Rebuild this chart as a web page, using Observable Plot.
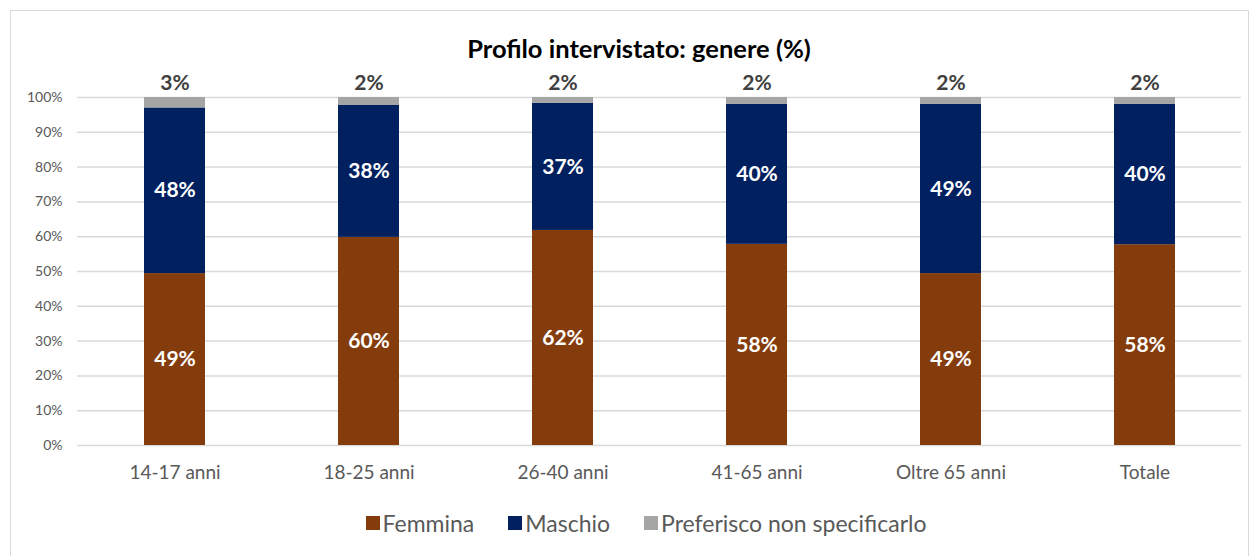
<!DOCTYPE html>
<html>
<head>
<meta charset="utf-8">
<script src="https://cdn.jsdelivr.net/npm/d3@7"></script>
<script src="https://cdn.jsdelivr.net/npm/@observablehq/plot@0.6"></script>
<style>
  html, body { margin: 0; padding: 0; background: #fff; }
  #wrap { position: relative; width: 1257px; height: 556px; overflow: hidden; font-family: Lato, "Open Sans", sans-serif; }
  #frame { position: absolute; left: 10px; top: 10px; width: 1239px; height: 600px; border: 1.5px solid #d9d9d9; box-sizing: border-box; }
  #title { position: absolute; left: 0; width: 1278px; top: 32px; text-align: center; font-weight: bold; font-size: 25.5px; line-height: 32px; color: #000; }
  #legend { position: absolute; left: 0; width: 1292px; top: 508px; display: flex; justify-content: center; gap: 34px; font-size: 23px; line-height: 30px; color: #595959; }
  #legend span.item { display: flex; align-items: center; }
  #legend i { display: inline-block; width: 14px; height: 14px; margin-right: 3px; }
  #chart { position: absolute; left: 0; top: 0; }
  #chart g[aria-label="y-axis tick label"] { font-size: 14px; }
  #chart g[aria-label="x-axis tick label"] { font-size: 19px; }
</style>
</head>
<body>
<div id="wrap">
  <div id="frame"></div>
  <div id="chart"></div>
  <div id="title">Profilo intervistato: genere (%)</div>
  <div id="legend"></div>
</div>
<script>
const categories = ["14-17 anni", "18-25 anni", "26-40 anni", "41-65 anni", "Oltre 65 anni", "Totale"];
const genders = ["Femmina", "Maschio", "Preferisco non specificarlo"];
const femmina = [49.4, 59.8, 61.8, 57.8, 49.4, 57.7];
const maschio = [47.6, 37.9, 36.5, 40.2, 48.6, 40.3];
const preferisco = [3.0, 2.3, 1.7, 2.0, 2.0, 2.0];
const colors = ["#843C0C", "#002060", "#A5A5A5"];
const yTicks = [0, 10, 20, 30, 40, 50, 60, 70, 80, 90, 100];

const series = [femmina, maschio, preferisco];
const long = [];
categories.forEach((c, i) => {
  genders.forEach((g, j) => long.push({cat: c, gender: g, value: series[j][i]}));
});
const inner = long.filter(d => d.gender !== genders[2]);
const tops = categories.map((c, i) => ({cat: c, total: femmina[i] + maschio[i] + preferisco[i], value: preferisco[i]}));

const fmt = v => Math.round(v) + "%";

const chart = Plot.plot({
  width: 1257,
  height: 556,
  marginTop: 97,
  marginBottom: 111,
  marginLeft: 77,
  marginRight: 16,
  style: {fontFamily: "Lato, 'Open Sans', sans-serif", background: "transparent"},
  x: {domain: categories, paddingInner: 0.686, paddingOuter: 0.343, label: null},
  y: {domain: [0, 100], label: null},
  color: {domain: genders, range: colors},
  marks: [
    Plot.gridY(yTicks, {stroke: "#d9d9d9", strokeOpacity: 1, strokeWidth: 1.5}),
    Plot.barY(long, {x: "cat", y: "value", fill: "gender", order: genders}),
    Plot.axisY(yTicks, {tickSize: 0, tickPadding: 15, tickFormat: d => d + "%", fill: "#595959", label: null}),
    Plot.axisX({tickSize: 0, tickPadding: 20, fill: "#595959", label: null}),
    Plot.text(inner, Plot.stackY({x: "cat", y: "value", z: "gender", text: d => fmt(d.value), fill: "white", fontWeight: "bold", fontSize: 21})),
    Plot.text(tops, {x: "cat", y: "total", text: d => fmt(d.value), dy: -14, fill: "#404040", fontWeight: "bold", fontSize: 21})
  ]
});
document.getElementById("chart").appendChild(chart);

const legend = document.getElementById("legend");
genders.forEach((g, j) => {
  const item = document.createElement("span");
  item.className = "item";
  const sw = document.createElement("i");
  sw.style.background = colors[j];
  item.appendChild(sw);
  item.appendChild(document.createTextNode(g));
  legend.appendChild(item);
});
</script>
</body>
</html>
